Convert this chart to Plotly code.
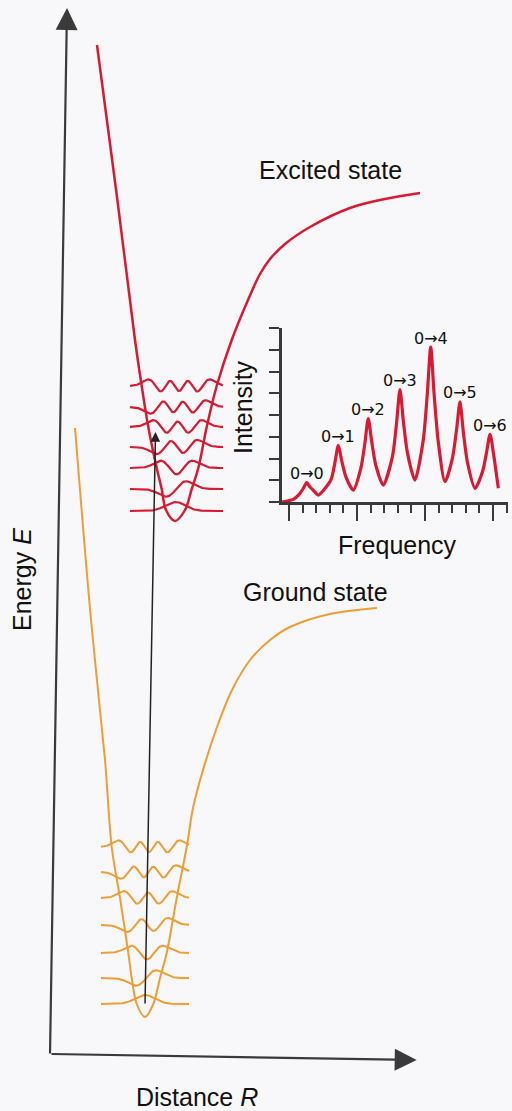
import numpy as np
import plotly.graph_objects as go
from numpy.polynomial.hermite import hermval
from math import factorial, pi, sqrt

# ---------------- data (arbitrary units) ----------------
# Potential energy curves: distance R, energy E
excited_R = [97, 117, 135, 141.7, 148.3, 156.7, 161.7, 166, 175, 185, 191.7, 198.3,
             206.7, 216.7, 231.7, 248, 260, 270, 285, 310, 350, 385, 420]
excited_E = [1066, 914, 771, 725, 684, 643, 622, 601, 590, 601, 622, 643,
             684, 725, 771, 811, 837, 852, 867, 884, 903, 912, 918]
ground_R = [75, 91, 105, 111.7, 120, 128.3, 131.7, 136.7, 145, 153.3, 160, 166.7,
            176.7, 186.7, 193, 203, 217, 232, 250, 270, 290, 330, 377]
ground_E = [683, 491, 351, 264, 213, 158, 133, 107, 94, 107, 133, 158,
            213, 264, 303, 341, 384, 421, 451, 471, 484, 497, 503]

# Vibrational levels v = 0..6
vib_levels = [0, 1, 2, 3, 4, 5, 6]
excited_level_E = [600, 622, 643, 664, 684, 704, 725]
excited_center_R = [175.5, 176, 176.5, 177, 177.5, 178, 179]
ground_level_E = [107, 133, 158, 186, 213, 239, 264]
ground_center_R = [145, 146, 147, 147.5, 148, 148.5, 149]
excited_span_R = [130, 223]
ground_span_R = [101, 189]

# Vertical transition (R, E) start/end
transition_R = [145, 155.5]
transition_E = [106, 679]

# Inset absorption spectrum: frequency (arb.), intensity (arb.)
spec_freq = [-0.5, 0.32, 0.75, 1.05, 1.30, 1.55, 1.85, 2.15,
             3.08, 3.38, 3.63, 3.88, 4.18, 4.73,
             5.28, 5.58, 5.83, 6.08, 6.38, 6.93,
             7.61, 7.91, 8.16, 8.41, 8.71, 9.26,
             9.87, 10.17, 10.42, 10.67, 10.97, 11.47,
             12.02, 12.32, 12.57, 12.82, 13.12, 13.68,
             14.23, 14.53, 14.78, 15.03, 15.39]
spec_int = [0.0, 0.12, 0.35, 0.62, 0.89, 0.69, 0.50, 0.32,
            1.01, 1.81, 2.61, 1.89, 1.17, 0.55,
            1.54, 2.69, 3.84, 2.79, 1.70, 0.78,
            2.10, 3.63, 5.17, 3.71, 2.26, 1.01,
            2.84, 4.98, 7.12, 4.95, 2.79, 0.93,
            2.03, 3.32, 4.60, 3.21, 1.82, 0.63,
            1.40, 2.30, 3.11, 2.24, 0.63]
peak_freq = [1.30, 3.63, 5.83, 8.16, 10.42, 12.57, 14.78]
peak_int = [0.89, 2.61, 3.84, 5.17, 7.12, 4.60, 3.11]
peak_labels = ["0\u21920", "0\u21921", "0\u21922", "0\u21923", "0\u21924", "0\u21925", "0\u21926"]

# ---------------- style ----------------
RED = "#d81a32"
ORANGE = "#ef9d35"
DARK = "#3a3a3a"
BG = "#f8f8fa"
FONT = "Liberation Sans, Arial, sans-serif"
LABEL_FONT = "DejaVu Sans, Liberation Sans, sans-serif"
WF_SCALE = 10.0   # R units per dimensionless oscillator coordinate
WF_AMP = 12.0     # E units per unit wavefunction amplitude


def psi(n, xi):
    c = np.zeros(n + 1)
    c[n] = 1.0
    norm = 1.0 / sqrt((2 ** n) * factorial(n) * sqrt(pi))
    return norm * hermval(xi, c) * np.exp(-xi ** 2 / 2)


fig = go.Figure()

fig.add_trace(go.Scatter(x=ground_R, y=ground_E, mode="lines",
                         line=dict(color=ORANGE, width=2, shape="spline", smoothing=0.9),
                         hoverinfo="skip"))
fig.add_trace(go.Scatter(x=excited_R, y=excited_E, mode="lines",
                         line=dict(color=RED, width=2.5, shape="spline", smoothing=1.0),
                         hoverinfo="skip"))

for v, e0, c0 in zip(vib_levels, ground_level_E, ground_center_R):
    r = np.linspace(ground_span_R[0], ground_span_R[1], 300)
    fig.add_trace(go.Scatter(x=r, y=e0 + WF_AMP * psi(v, (r - c0) / WF_SCALE), mode="lines",
                             line=dict(color=ORANGE, width=2), hoverinfo="skip"))
for v, e0, c0 in zip(vib_levels, excited_level_E, excited_center_R):
    r = np.linspace(excited_span_R[0], excited_span_R[1], 300)
    fig.add_trace(go.Scatter(x=r, y=e0 + WF_AMP * psi(v, (r - c0) / WF_SCALE), mode="lines",
                             line=dict(color=RED, width=2.2), hoverinfo="skip"))

# inset spectrum
fig.add_trace(go.Scatter(x=spec_freq, y=spec_int, mode="lines", xaxis="x2", yaxis="y2",
                         line=dict(color=RED, width=3.2, shape="spline", smoothing=0.7),
                         hoverinfo="skip"))

annotations = []
# main axes as arrows
annotations.append(dict(x=67, y=1103, ax=50, ay=56, xref="x", yref="y", axref="x", ayref="y",
                        text="", showarrow=True, arrowhead=2, arrowsize=2.0, arrowwidth=2.2,
                        arrowcolor=DARK))
annotations.append(dict(x=416.7, y=51, ax=50, ay=57, xref="x", yref="y", axref="x", ayref="y",
                        text="", showarrow=True, arrowhead=2, arrowsize=2.0, arrowwidth=2.2,
                        arrowcolor=DARK))
# transition arrow
annotations.append(dict(x=transition_R[1], y=transition_E[1], ax=transition_R[0], ay=transition_E[0],
                        xref="x", yref="y", axref="x", ayref="y", text="", showarrow=True,
                        arrowhead=2, arrowsize=1.3, arrowwidth=1.5, arrowcolor="#222222"))

texts = [
    ("Excited state", 330.5, 941, 25, 0),
    ("Ground state", 315, 519, 25, 0),
    ("Distance <i>R</i>", 197, 14, 25, 0),
    ("Energy <i>E</i>", 22, 531, 25, -90),
    ("Frequency", 397, 566, 25, 0),
    ("Intensity", 243, 704, 25, -90),
]
for t, x, y, s, ang in texts:
    annotations.append(dict(x=x, y=y, xref="x", yref="y", text=t, showarrow=False,
                            textangle=ang, font=dict(family=FONT, size=s, color="#111111"),
                            xanchor="center", yanchor="middle"))

for f, i, lab in zip(peak_freq, peak_int, peak_labels):
    annotations.append(dict(x=f, y=i, xref="x2", yref="y2", text=lab, showarrow=False,
                            yshift=9, font=dict(family=LABEL_FONT, size=16, color="#111111"),
                            xanchor="center", yanchor="middle"))

fig.update_layout(
    width=512, height=1111,
    margin=dict(l=0, r=0, t=0, b=0),
    paper_bgcolor=BG, plot_bgcolor="rgba(0,0,0,0)",
    showlegend=False,
    xaxis=dict(domain=[0, 1], range=[0, 512], visible=False, fixedrange=True),
    yaxis=dict(domain=[0, 1], range=[0, 1111], visible=False, fixedrange=True),
    xaxis2=dict(domain=[282 / 512, 508 / 512], anchor="y2", range=[-0.51, 16.1],
                showline=True, linecolor=DARK, linewidth=2.5, showgrid=False, zeroline=False,
                showticklabels=False, tickmode="linear", tick0=0, dtick=5, ticks="outside",
                ticklen=16, tickwidth=2, tickcolor=DARK,
                minor=dict(ticks="outside", ticklen=8, tickwidth=2, tickcolor=DARK,
                           tick0=0, dtick=1, showgrid=False)),
    yaxis2=dict(domain=[(1111 - 502) / 1111, (1111 - 328) / 1111], anchor="x2", range=[0, 8],
                showline=True, linecolor=DARK, linewidth=2.5, showgrid=False, zeroline=False,
                showticklabels=False, tickmode="linear", tick0=0, dtick=1, ticks="outside",
                ticklen=10, tickwidth=2, tickcolor=DARK),
    annotations=annotations,
)

fig.write_html("out.html", config={"displayModeBar": False},
               post_script="document.body.style.margin='0';document.body.style.overflow='hidden';")
